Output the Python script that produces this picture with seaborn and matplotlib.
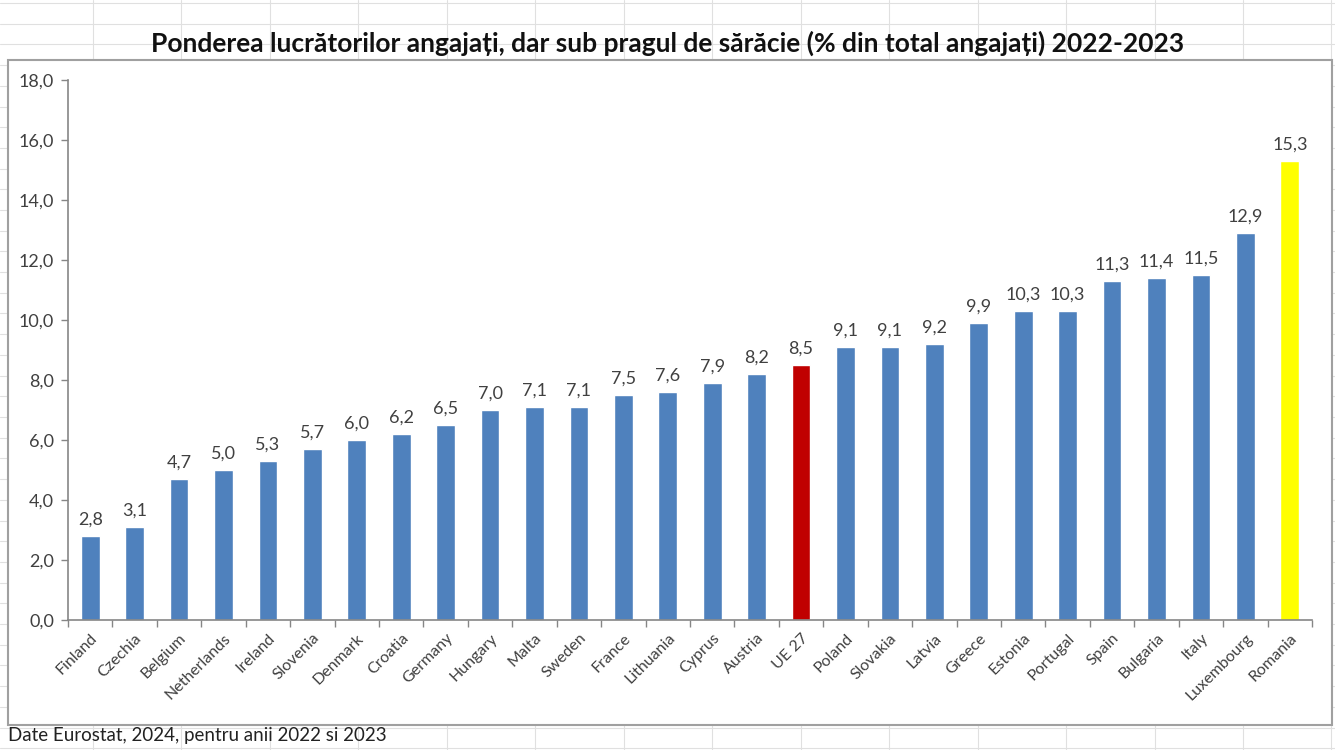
import matplotlib
matplotlib.use('Agg')
import matplotlib.pyplot as plt
from matplotlib.patches import Rectangle
from matplotlib.lines import Line2D
from matplotlib.ticker import FixedLocator, FuncFormatter
import seaborn as sns
import pandas as pd
import numpy as np

# ── Data ──────────────────────────────────────────────────────────
countries = ['Finland', 'Czechia', 'Belgium', 'Netherlands', 'Ireland', 'Slovenia',
             'Denmark', 'Croatia', 'Germany', 'Hungary', 'Malta', 'Sweden', 'France',
             'Lithuania', 'Cyprus', 'Austria', 'UE 27', 'Poland', 'Slovakia', 'Latvia',
             'Greece', 'Estonia', 'Portugal', 'Spain', 'Bulgaria', 'Italy',
             'Luxembourg', 'Romania']
values = [2.8, 3.1, 4.7, 5.0, 5.3, 5.7, 6.0, 6.2, 6.5, 7.0, 7.1, 7.1, 7.5, 7.6,
          7.9, 8.2, 8.5, 9.1, 9.1, 9.2, 9.9, 10.3, 10.3, 11.3, 11.4, 11.5, 12.9, 15.3]
yticks = [0, 2, 4, 6, 8, 10, 12, 14, 16, 18]

TITLE = 'Ponderea lucrătorilor angajați, dar sub pragul de sărăcie (% din total angajați) 2022-2023'
SOURCE = 'Date Eurostat, 2024, pentru anii 2022 si 2023'

# ── Style ─────────────────────────────────────────────────────────
BLUE = '#4F81BD'
RED = '#C00000'
YELLOW = '#FFFF00'
AXIS = '#868686'
TEXT = '#404040'

sns.set_theme(style='white')
plt.rcParams['font.family'] = ['Lato', 'DejaVu Sans']

palette = {c: BLUE for c in countries}
palette['UE 27'] = RED
palette['Romania'] = YELLOW

df = pd.DataFrame({'country': countries, 'value': values})

W, H = 1335, 750
fig = plt.figure(figsize=(W / 100, H / 100), dpi=100)
fig.patch.set_facecolor('white')

# Excel sheet grid in the background
for k in range(15):
    x = (93 + 88.46 * k) / W
    fig.add_artist(Line2D([x, x], [0, 1], transform=fig.transFigure,
                          color='#E0E0E0', lw=0.8, zorder=0))
for k in range(37):
    y = 1 - (3 + 20.7 * k) / H
    fig.add_artist(Line2D([0, 1], [y, y], transform=fig.transFigure,
                          color='#E0E0E0', lw=0.8, zorder=0))

# chart frame
fig.add_artist(Rectangle((8 / W, 1 - 725 / H), (1332 - 8) / W, (725 - 60) / H,
                         transform=fig.transFigure, facecolor='white',
                         edgecolor='#A0A0A0', lw=1.5, zorder=1))

ax = fig.add_axes([68 / W, 1 - 620 / H, (1312 - 68) / W, (620 - 80) / H], zorder=2)
ax.patch.set_alpha(0)

sns.barplot(data=df, x='country', y='value', hue='country', palette=palette,
            width=0.42, saturation=1, legend=False, ax=ax)

ax.set_xlim(-0.5, len(countries) - 0.5)
ax.set_ylim(0, 18)
ax.yaxis.set_major_locator(FixedLocator(yticks))
ax.yaxis.set_major_formatter(FuncFormatter(lambda v, p: f'{v:.1f}'.replace('.', ',')))

for i, v in enumerate(values):
    ax.text(i, v + 0.28, f'{v:.1f}'.replace('.', ','), ha='center', va='bottom',
            fontsize=13, color=TEXT)

for s in ['top', 'right']:
    ax.spines[s].set_visible(False)
for s in ['left', 'bottom']:
    ax.spines[s].set_color(AXIS)
    ax.spines[s].set_linewidth(1.2)

ax.set_xlabel('')
ax.set_ylabel('')
ax.set_xticks(range(len(countries)))
ax.set_xticklabels(countries, rotation=45, ha='right', rotation_mode='anchor',
                   fontsize=11.5, color=TEXT)
ax.xaxis.set_minor_locator(FixedLocator(np.arange(-0.5, len(countries), 1)))
ax.tick_params(axis='x', which='major', length=0, pad=8)
ax.tick_params(axis='x', which='minor', length=5, color=AXIS, width=1, bottom=True)
ax.tick_params(axis='y', length=5, color=AXIS, width=1, left=True,
               labelsize=13, labelcolor=TEXT, pad=5)

fig.text(668 / W, 1 - 43 / H, TITLE, ha='center', va='center',
         fontsize=19, fontweight='bold', color='#111111', zorder=3)
fig.text(8 / W, 1 - 735 / H, SOURCE, ha='left', va='center',
         fontsize=13.5, color='#222222', zorder=3)

fig.savefig('out.png', dpi=100, facecolor='white')
